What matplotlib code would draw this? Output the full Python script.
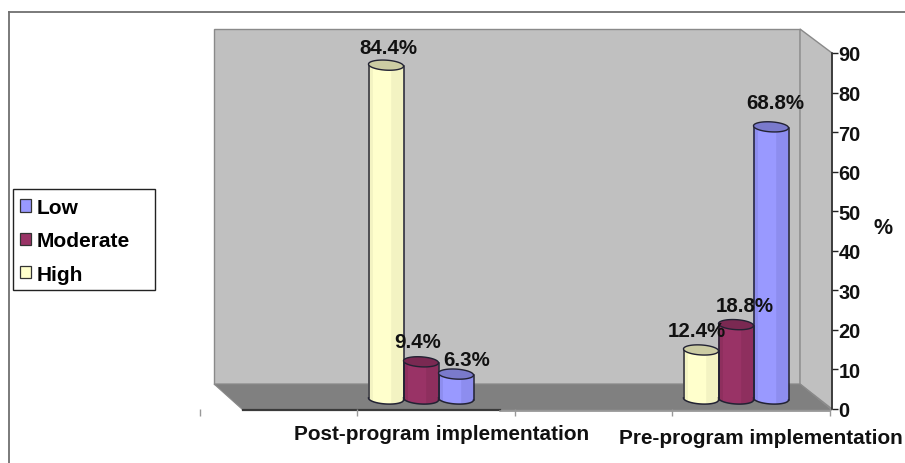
import numpy as np
import matplotlib
matplotlib.use("Agg")
import matplotlib.pyplot as plt
from matplotlib.patches import Polygon, Patch, Rectangle
from matplotlib.transforms import Affine2D

categories = ["Post-program implementation", "Pre-program implementation"]
series_names = ["High", "Moderate", "Low"]
high = [84.4, 12.4]
moderate = [9.4, 18.8]
low = [6.3, 68.8]
y_ticks = [0, 10, 20, 30, 40, 50, 60, 70, 80, 90]

W, H = 905, 464
FONT = "Liberation Sans"
plt.rcParams["font.family"] = [FONT, "DejaVu Sans"]
plt.rcParams["font.weight"] = "bold"
fig = plt.figure(figsize=(W / 100, H / 100), dpi=100, facecolor="white")

# backdrop axes in pixel units: frame and the 3D box
bg = fig.add_axes([0, 0, 1, 1], zorder=0)
bg.set_xlim(0, W)
bg.set_ylim(H, 0)
bg.axis("off")
bg.plot([9, 905], [13, 13], color="#707070", lw=1.3)
bg.plot([9, 9], [13, 464], color="#707070", lw=1.3)
bg.add_patch(Polygon([(214, 30), (800, 30), (800, 385), (214, 385)], fc="#C0C0C0", ec="#8A8A8A", lw=1))
bg.add_patch(Polygon([(800, 30), (832, 54), (832, 410), (800, 385)], fc="#C0C0C0", ec="#8A8A8A", lw=1))
bg.add_patch(Polygon([(214, 385), (800, 385), (832, 411), (243, 411)], fc="#808080", ec="#8A8A8A", lw=0.8))
bg.plot([243, 500], [411, 411], color="#3A3A3A", lw=1.6)
bg.plot([500, 830], [411.5, 411.5], color="#909090", lw=1.2)
bg.add_patch(Rectangle((13, 190), 142, 101, fc="white", ec="#222222", lw=1.0))

# chart axes
PX0, PX_PER_CAT = 421.0, 315.0
L, R, B, T = 200, 832, 410, 54
ax = fig.add_axes([L / W, (H - B) / H, (R - L) / W, (B - T) / H], zorder=2)
ax.patch.set_alpha(0)
ax.set_xlim((L - PX0) / PX_PER_CAT, (R - PX0) / PX_PER_CAT)
ax.set_ylim(0, 90)
for s in ("top", "left", "bottom"):
    ax.spines[s].set_visible(False)
ax.spines["right"].set_color("#222222")
ax.spines["right"].set_linewidth(1.1)
ax.yaxis.tick_right()
ax.set_yticks(y_ticks)
ax.tick_params(axis="y", length=4, width=1, color="#222222", pad=0.5, labelsize=14.4)
for t in ax.get_yticklabels():
    t.set_fontweight("bold")
    t.set_color("#111111")
ax.set_xticks([(p - PX0) / PX_PER_CAT for p in (200, 357, 515, 672, 830)], minor=True)
ax.tick_params(axis="x", which="minor", length=5, width=1, color="#999999", bottom=True)
ax.set_xticks([(441.5 - PX0) / PX_PER_CAT, (761 - PX0) / PX_PER_CAT])
ax.set_xticklabels(categories, fontsize=14.95, fontweight="bold", color="#111111")
ax.tick_params(axis="x", which="major", length=0, pad=10.5)
ax.xaxis.get_major_ticks()[1].set_pad(13.5)
ax.text(1.0805, 0.51, "%", transform=ax.transAxes, fontsize=15.5, fontweight="bold",
        color="#111111", ha="center", va="center")

STYLES = {
    "High": dict(body="#FFFFCC", shade="#F3F3C2", top="#CCCCA3"),
    "Moderate": dict(body="#993366", shade="#8E2F5E", top="#7A2952"),
    "Low": dict(body="#9999FF", shade="#8D8DEF", top="#7A7ACC"),
}
HALF_W = 17.5 / PX_PER_CAT
UNIT_PX = (B - T) / 90
B_PX = 5.0 / UNIT_PX
TILT = 1.0 / UNIT_PX
lift = Affine2D().translate(0, 10)
tr = ax.transData + lift
theta = np.linspace(0, 2 * np.pi, 73)


def cylinder(cx, v, st):
    ex = np.cos(theta)
    xs = cx + HALF_W * ex
    ys_top = v + B_PX * np.sin(theta) - TILT * ex
    lower = np.linspace(np.pi, 2 * np.pi, 37)

    def band(a, b, color):
        mask = np.linspace(a, b, 13)
        xx = cx + HALF_W * mask
        front = -B_PX * np.sqrt(1 - mask ** 2) - TILT * mask
        pts = list(zip(xx, v + front)) + list(zip(xx[::-1], front[::-1]))
        ax.add_patch(Polygon(pts, closed=True, fc=color, ec="none", lw=0, transform=tr, zorder=3, clip_on=False))

    band(-1, 1, st["body"])
    band(-1, -0.75, st["shade"])
    band(0.3, 1, st["shade"])
    ox = cx + HALF_W * np.cos(lower)
    oy = B_PX * np.sin(lower) - TILT * np.cos(lower)
    ax.plot(ox, oy, color="#222233", lw=1.1, transform=tr, zorder=4, clip_on=False)
    ax.plot([cx - HALF_W] * 2, [TILT, v + TILT], color="#222233", lw=1.1, transform=tr, zorder=4, clip_on=False)
    ax.plot([cx + HALF_W] * 2, [-TILT, v - TILT], color="#222233", lw=1.1, transform=tr, zorder=4, clip_on=False)
    ax.add_patch(Polygon(list(zip(xs, ys_top)), closed=True, fc=st["top"], ec="#222233", lw=1.0,
                         transform=tr, zorder=5, clip_on=False))


step = 35.0 / PX_PER_CAT
all_series = [("High", high, -step), ("Moderate", moderate, 0.0), ("Low", low, step)]
for name, vals, off in all_series:
    for i, v in enumerate(vals):
        cylinder(i + off, v, STYLES[name])

# label offsets from bar top, in pixels
LABEL_OFFSETS = {("High", 0): (2, 18), ("Moderate", 0): (-3, 20), ("Low", 0): (11, 15),
                 ("High", 1): (-4, 19), ("Moderate", 1): (9, 19), ("Low", 1): (4, 24)}
for name, vals, off in all_series:
    for i, v in enumerate(vals):
        dx, dy = LABEL_OFFSETS[(name, i)]
        ax.annotate(f"{v}%", xy=(i + off, v), xycoords=tr, xytext=(dx * 0.72, dy * 0.72),
                    textcoords="offset points", ha="center", va="center", fontsize=14.8,
                    fontweight="bold", color="#111111", zorder=6, annotation_clip=False)

# legend
handles = [Patch(fc=STYLES[n]["body"], ec="#333333", lw=0.9) for n in series_names[::-1]]
leg = fig.legend(handles, series_names[::-1], loc="upper left",
                 bbox_to_anchor=(13 / W, 1 - 192 / H), bbox_transform=fig.transFigure,
                 borderaxespad=0, frameon=False,
                 handlelength=0.52, handleheight=0.52, handletextpad=0.26,
                 labelspacing=0.69, borderpad=0.33, prop=dict(family=FONT, weight="bold", size=15))
leg.set_zorder(5)

fig.savefig("out.png", dpi=100, facecolor="white")
